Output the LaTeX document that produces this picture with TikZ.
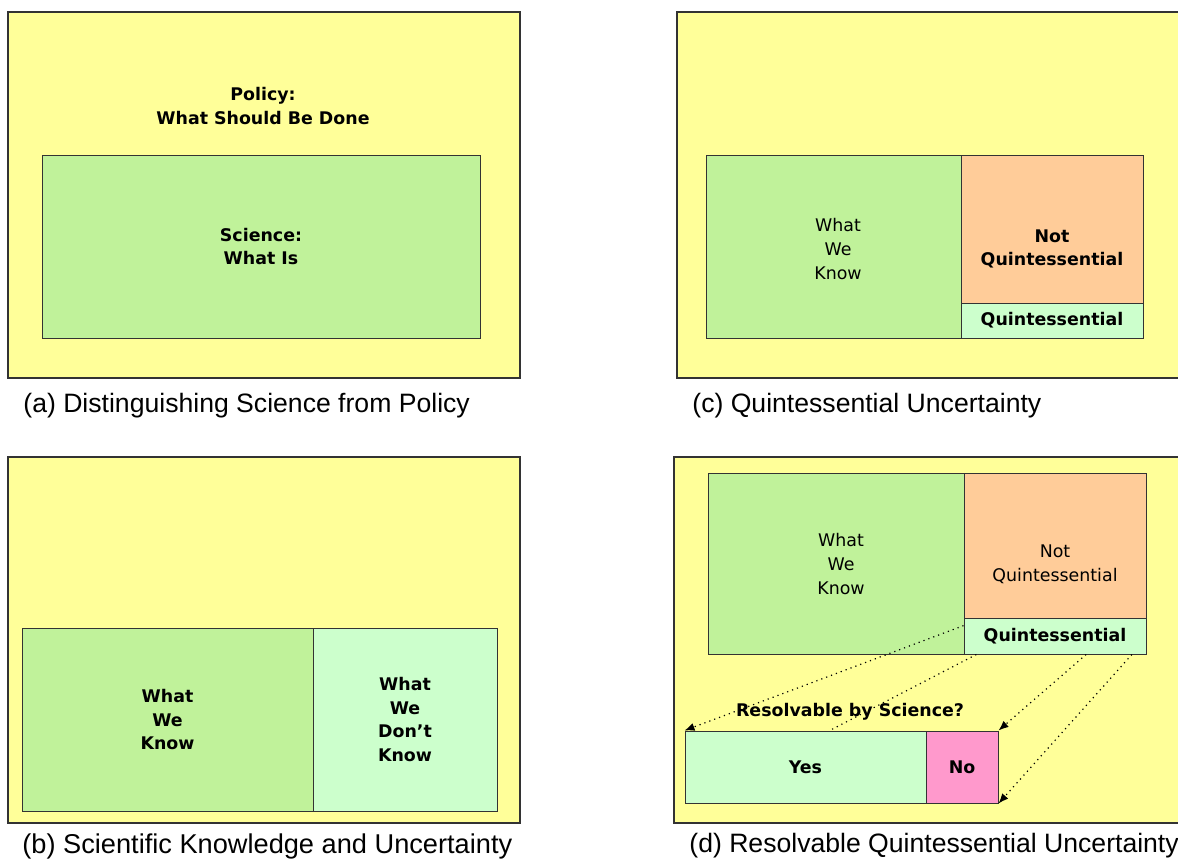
\documentclass[tikz,border=0pt]{standalone}
\usepackage{fontspec}
\setmainfont{Liberation Sans}
\newfontfamily\boxfont{DejaVu Sans}
\usetikzlibrary{arrows.meta,calc}

\definecolor{paper}{RGB}{255,255,153}
\definecolor{known}{RGB}{192,242,154}
\definecolor{unknown}{RGB}{204,255,204}
\definecolor{notq}{RGB}{255,204,153}
\definecolor{nores}{RGB}{255,153,204}

\tikzset{
  panel/.style={draw=black!80, line width=0.8pt, fill=paper, inner sep=0pt},
  cell/.style={draw=black!80, line width=0.5pt, inner sep=0pt, align=center},
  plain/.style={font=\boxfont\fontsize{8.7}{11.8}\selectfont},
  heavy/.style={font=\boxfont\bfseries\fontsize{8.7}{11.8}\selectfont},
  word/.style={inner sep=0pt, align=center},
  caption/.style={anchor=west, inner sep=0pt, font=\fontsize{#1}{16}\selectfont},
  caption/.default=13.3,
  maps/.style={dotted, line width=0.6pt, -{Latex[length=5pt,width=4pt]}}
}

\begin{document}
\begin{tikzpicture}[x=0.5pt, y=-0.5pt]
\useasboundingbox (0,0) rectangle (1178,859);
\clip (0,0) rectangle (1178,859);

% (a) science sits inside policy
\node[panel, minimum width=256pt, minimum height=183pt] (aFrame) at (264,195) {};
\node[word, heavy] (aPolicy) at (263,106) {Policy:\\What Should Be Done};
\node[cell, heavy, fill=known, minimum width=219pt, minimum height=91.5pt] (aScience) at (261,246.5) {Science:\\What Is};
\node[caption] (aCaption) at (23,406) {(a) Distinguishing Science from Policy};

% (b) known and unknown
\node[panel, minimum width=256pt, minimum height=183pt] (bFrame) at (264,640) {};
\node[cell, heavy, fill=known, minimum width=145.5pt, minimum height=91.5pt] (bKnow) at (167.5,719.5) {What\\We\\Know};
\node[cell, heavy, fill=unknown, minimum width=92pt, minimum height=91.5pt] (bUnknown) at (405,719.5) {What\\We\\Don’t\\Know};
\node[caption=13.6] (bCaption) at (22,846) {(b) Scientific Knowledge and Uncertainty};

% (c) the unknown part split up
\node[panel, minimum width=256.5pt, minimum height=183pt] (cFrame) at (933.5,195) {};
\node[cell, fill=known, minimum width=127.5pt, minimum height=91.5pt] (cKnow) at (833.5,246.5) {};
\node[word, plain] (cKnowText) at (838,249) {What\\We\\Know};
\node[cell, fill=notq, minimum width=91pt, minimum height=74pt] (cNotQ) at (1052,229) {};
\node[word, heavy] (cNotQText) at (1052,249) {Not\\Quintessential};
\node[cell, heavy, fill=unknown, minimum width=91pt, minimum height=17.5pt] (cQuint) at (1052,320.5) {Quintessential};
\node[caption] (cCaption) at (692,406) {(c) Quintessential Uncertainty};

% (d) quintessential part, resolvable or not
\node[panel, minimum width=258pt, minimum height=183pt] (dFrame) at (932,640) {};
\node[cell, fill=known, minimum width=128pt, minimum height=90.5pt] (dKnow) at (836,563.5) {};
\node[word, plain] (dKnowText) at (841,564) {What\\We\\Know};
\node[cell, fill=notq, minimum width=91pt, minimum height=72.5pt] (dNotQ) at (1055,545.5) {};
\node[word, plain] (dNotQText) at (1055,564) {Not\\Quintessential};
\node[cell, heavy, fill=unknown, minimum width=91pt, minimum height=18pt] (dQuint) at (1055,636) {Quintessential};
\node[cell, heavy, fill=unknown, minimum width=120.5pt, minimum height=36pt] (dYes) at (805.5,767) {Yes};
\node[cell, heavy, fill=nores, minimum width=36pt, minimum height=36pt] (dNo) at (962,767) {No};

\draw[maps] ($(dQuint.north west)!0.22!(dQuint.south west)$) -- (dYes.north west);
\draw[dotted, line width=0.6pt] ($(dQuint.south west)!0.07!(dQuint.south east)$) -- ($(dYes.north west)!0.6!(dYes.north east)$);
\draw[maps] ($(dQuint.south west)!0.67!(dQuint.south east)$) -- (dNo.north east);
\draw[maps] ($(dQuint.south west)!0.92!(dQuint.south east)$) -- (dNo.south east);

\node[word, heavy] (dQuestion) at (850,712) {Resolvable by Science?};
\node[caption] (dCaption) at (689,846) {(d) Resolvable Quintessential Uncertainty};
\end{tikzpicture}
\end{document}
